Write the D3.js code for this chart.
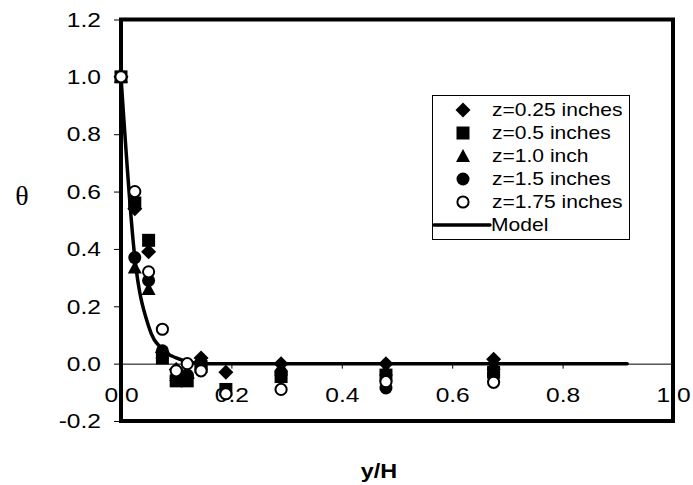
<!DOCTYPE html>
<html>
<head>
<meta charset="utf-8">
<script src="https://cdn.jsdelivr.net/npm/d3@7"></script>
<style>
    body { margin: 0; background: #fff; }
    svg { display: block; font-family: "Liberation Sans", Arial, sans-serif; }
</style>
</head>
<body>
<svg id="chart" width="693" height="485"></svg>
<script>
// y/H positions of the probes
const xPos = [0, 0.025, 0.05, 0.075, 0.1, 0.12, 0.145, 0.19, 0.29, 0.48, 0.675];

// measured theta per depth (null = not shown)
const z025 = [1.0, 0.54, 0.39, 0.04, -0.02, -0.05, 0.02, -0.03, 0.0, 0.0, 0.015];
const z05 = [1.0, 0.56, 0.43, 0.02, -0.06, -0.06, -0.01, -0.09, -0.045, -0.04, -0.03];
const z10 = [1.0, 0.335, 0.26, 0.04, -0.04, -0.03, 0.0, null, -0.02, -0.02, 0.0];
const z15 = [1.0, 0.37, 0.29, 0.045, -0.05, -0.04, -0.01, null, -0.03, -0.085, -0.04];
const z175 = [1.0, 0.6, 0.32, 0.12, -0.025, 0.0, -0.025, -0.105, -0.09, -0.063, -0.065];

// model curve
const modelX = [0, 0.025, 0.05, 0.075, 0.1, 0.125, 0.15, 0.2, 0.3, 0.5, 0.7, 0.917];
const modelY = [1.0, 0.37, 0.13, 0.05, 0.02, 0.005, 0.0, 0.0, 0.0, 0.0, 0.0, 0.0];

const seriesNames = ["z=0.25 inches", "z=0.5 inches", "z=1.0 inch", "z=1.5 inches", "z=1.75 inches"];
const seriesShapes = ["diamond", "square", "triangle", "circle", "open"];
const seriesValues = [z025, z05, z10, z15, z175];

const xTicks = [0, 0.2, 0.4, 0.6, 0.8, 1.0];
const yTicks = [-0.2, 0, 0.2, 0.4, 0.6, 0.8, 1.0, 1.2];

const svg = d3.select("#chart");

const plotLeft = 121, plotRight = 673, plotTop = 19.5, plotBottom = 421;
const x = d3.scaleLinear().domain([0, 1]).range([plotLeft, plotRight]);
const y = d3.scaleLinear().domain([-0.2, 1.2]).range([plotBottom, plotTop]);

// the original text is a bit wide, stretch it around its anchor
const widen = 1.17;
const stretch = (sel) => sel.attr("transform", function () {
    const ax = +(this.getAttribute("x") || 0);
    return `translate(${ax},0) scale(${widen},1) translate(${-ax},0)`;
});

const fmt = (d) => d3.format(".1f")(d).replace("−", "-");

// marker path generator, centred on 0,0
const markerPath = (shape) => {
    if (shape === "diamond") return "M0,-7.5L7.5,0L0,7.5L-7.5,0Z";
    if (shape === "square") return "M-6.5,-6.5H6.5V6.5H-6.5Z";
    if (shape === "triangle") return "M0,-7L7,6L-7,6Z";
    return d3.arc()({ innerRadius: 0, outerRadius: 6.5, startAngle: 0, endAngle: 2 * Math.PI });
};

const drawMarker = (g, shape) => {
    if (shape === "open") {
        g.append("circle")
            .attr("r", 5.6)
            .attr("fill", "#fff")
            .attr("stroke", "#000")
            .attr("stroke-width", 2);
    } else {
        g.append("path").attr("d", markerPath(shape)).attr("fill", "#000");
    }
};

// y axis
const yAxis = d3.axisLeft(y)
    .tickValues(yTicks)
    .tickSize(7)
    .tickPadding(13)
    .tickFormat(fmt);
svg.append("g")
    .attr("transform", `translate(${plotLeft},0)`)
    .call(yAxis)
    .call((g) => g.select(".domain").remove())
    .call((g) => g.selectAll("text").style("font-size", "21px").attr("fill", "#000").call(stretch))
    .call((g) => g.selectAll("line").attr("stroke", "#000"));

// x axis sits on theta = 0
const xAxis = d3.axisBottom(x)
    .tickValues(xTicks)
    .tickSize(5)
    .tickPadding(18)
    .tickFormat(fmt);
svg.append("g")
    .attr("transform", `translate(0,${y(0)})`)
    .call(xAxis)
    .call((g) => g.select(".domain").attr("stroke", "#000").attr("stroke-width", 1))
    .call((g) => g.selectAll("text").style("font-size", "21px").attr("fill", "#000").call(stretch))
    .call((g) => g.selectAll("line").attr("stroke", "#000"));

// plot frame
svg.append("rect")
    .attr("x", plotLeft)
    .attr("y", plotTop)
    .attr("width", plotRight - plotLeft)
    .attr("height", plotBottom - plotTop)
    .attr("fill", "none")
    .attr("stroke", "#000")
    .attr("stroke-width", 4);

// model line
const line = d3.line()
    .x((d) => x(d[0]))
    .y((d) => y(d[1]))
    .curve(d3.curveMonotoneX);
svg.append("path")
    .datum(modelX.map((v, i) => [v, modelY[i]]))
    .attr("d", line)
    .attr("fill", "none")
    .attr("stroke", "#000")
    .attr("stroke-width", 3.5)
    .attr("stroke-linecap", "round");

// markers
seriesValues.forEach((vals, si) => {
    const g = svg.append("g");
    vals.forEach((v, i) => {
        if (v === null) return;
        const m = g.append("g").attr("transform", `translate(${x(xPos[i])},${y(v)})`);
        drawMarker(m, seriesShapes[si]);
    });
});

// legend
const legend = svg.append("g");
legend.append("rect")
    .attr("x", 432.5)
    .attr("y", 95.5)
    .attr("width", 197)
    .attr("height", 144)
    .attr("fill", "#fff")
    .attr("stroke", "#000")
    .attr("stroke-width", 1);

const rowY = (i) => 110 + i * 23;
seriesNames.forEach((name, i) => {
    const m = legend.append("g").attr("transform", `translate(463,${rowY(i)})`);
    drawMarker(m, seriesShapes[i]);
    legend.append("text")
        .attr("x", 492)
        .attr("y", rowY(i))
        .attr("dy", "0.35em")
        .style("font-size", "18px")
        .text(name)
        .call(stretch);
});
legend.append("line")
    .attr("x1", 434)
    .attr("x2", 490)
    .attr("y1", rowY(5))
    .attr("y2", rowY(5))
    .attr("stroke", "#000")
    .attr("stroke-width", 3.5)
    .attr("stroke-linecap", "round");
legend.append("text")
    .attr("x", 491)
    .attr("y", rowY(5))
    .attr("dy", "0.35em")
    .style("font-size", "18px")
    .text("Model")
    .call(stretch);

// axis titles
svg.append("text")
    .attr("x", 22)
    .attr("y", 205)
    .attr("text-anchor", "middle")
    .style("font-family", "'Liberation Serif', 'DejaVu Serif', serif")
    .style("font-size", "28px")
    .text("θ");

svg.append("text")
    .attr("x", 379)
    .attr("y", 478)
    .attr("text-anchor", "middle")
    .style("font-size", "20px")
    .style("font-weight", "bold")
    .text("y/H")
    .call(stretch);
</script>
</body>
</html>
